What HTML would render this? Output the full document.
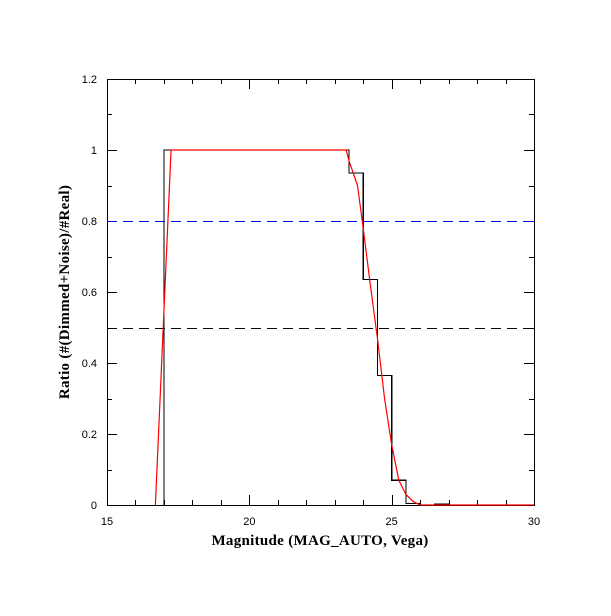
<!DOCTYPE html>
<html><head><meta charset="utf-8"><style>
body{margin:0;background:#fff}
svg text{font-family:"Liberation Sans",sans-serif;font-size:11px}
.ttl{font-family:"Liberation Serif",serif;font-size:15px;font-weight:bold;letter-spacing:0.3px}
</style></head><body>
<svg id="chart" width="611" height="611" xmlns="http://www.w3.org/2000/svg">
<rect width="611" height="611" fill="#fff"/>
<g id="g"></g>
<text class="ttl" x="320" y="545" text-anchor="middle">Magnitude (MAG_AUTO, Vega)</text>
<text class="ttl" x="0" y="0" text-anchor="middle" transform="translate(69,292) rotate(-90)">Ratio (#(Dimmed+Noise)/#Real)</text>
</svg>
<script>
const stepEdges=[17,23.5,24,24.5,25,25.5,26,26.5,27];
const stepValues=[1,0.935,0.635,0.365,0.07,0.004,0,0.003];
const curveX=[16.7,17.25,23.4,23.5,23.8,24,24.25,24.5,24.75,25,25.25,25.5,25.75,26,30];
const curveY=[0,1,1,0.97,0.9,0.78,0.62,0.47,0.3,0.17,0.07,0.03,0.01,0,0];
const xTicks=[15,20,25,30];
const yTicks=[0,0.2,0.4,0.6,0.8,1.0,1.2];
const yTickLabels=["0","0.2","0.4","0.6","0.8","1","1.2"];
const refLines=[{v:0.5,c:"#000",n:"threshold-50-line"},{v:0.8,c:"#00f",n:"threshold-80-line"}];
const X0=107,X1=534,Y0=505,Y1=79;
const sx=v=>X0+(v-15)/15*(X1-X0), sy=v=>Y0-v/1.2*(Y0-Y1);
const g=document.getElementById('g');const NS="http://www.w3.org/2000/svg";
function mk(t,a,name){const e=document.createElementNS(NS,t);for(const k in a)e.setAttribute(k,a[k]);


g.appendChild(e);return e;}
mk('rect',{x:X0+0.5,y:Y1+0.5,width:X1-X0,height:Y0-Y1,fill:'none',stroke:'#000','stroke-width':1,'shape-rendering':'crispEdges'},'plot-frame');
for(let m=15;m<=30;m++){const maj=m%5===0,L=maj?10:5,x=Math.round(sx(m))+0.5;
mk('line',{x1:x,x2:x,y1:Y0,y2:Y0-L,stroke:'#000','shape-rendering':'crispEdges'},'x-tick');
mk('line',{x1:x,x2:x,y1:Y1,y2:Y1+L,stroke:'#000','shape-rendering':'crispEdges'},'x-tick-top');}
xTicks.forEach(v=>{const t=mk('text',{x:sx(v),y:Y0+20,'text-anchor':'middle'},'x-tick-label');t.textContent=v;});
for(let i=0;i<=12;i++){const v=i/10,maj=i%2===0,L=maj?10:5,y=Math.round(sy(v))+0.5;
mk('line',{x1:X0,x2:X0+L,y1:y,y2:y,stroke:'#000','shape-rendering':'crispEdges'},'y-tick');
mk('line',{x1:X1,x2:X1-L,y1:y,y2:y,stroke:'#000','shape-rendering':'crispEdges'},'y-tick-right');}
yTicks.forEach((v,i)=>{const t=mk('text',{x:X0-10,y:sy(v)+4,'text-anchor':'end'},'y-tick-label');t.textContent=yTickLabels[i];});
refLines.forEach(r=>mk('line',{x1:X0,x2:X1,y1:Math.round(sy(r.v))+0.5,y2:Math.round(sy(r.v))+0.5,stroke:r.c,'stroke-dasharray':'10,6','shape-rendering':'crispEdges'},r.n));
let d=`M${sx(stepEdges[0])},${sy(0)}`;
stepValues.forEach((v,i)=>{d+=` L${sx(stepEdges[i])},${sy(v)} L${sx(stepEdges[i+1])},${sy(v)}`;});
d+=` L${sx(stepEdges[stepEdges.length-1])},${sy(0)}`;
mk('path',{d,fill:'none',stroke:'#000','stroke-width':1.2,'shape-rendering':'crispEdges'},'ratio-histogram');
mk('path',{d:curveX.map((x,i)=>(i?'L':'M')+sx(x)+','+sy(curveY[i])).join(' '),fill:'none',stroke:'#f00','stroke-width':1.2},'fit-curve');
</script>
</body></html>
